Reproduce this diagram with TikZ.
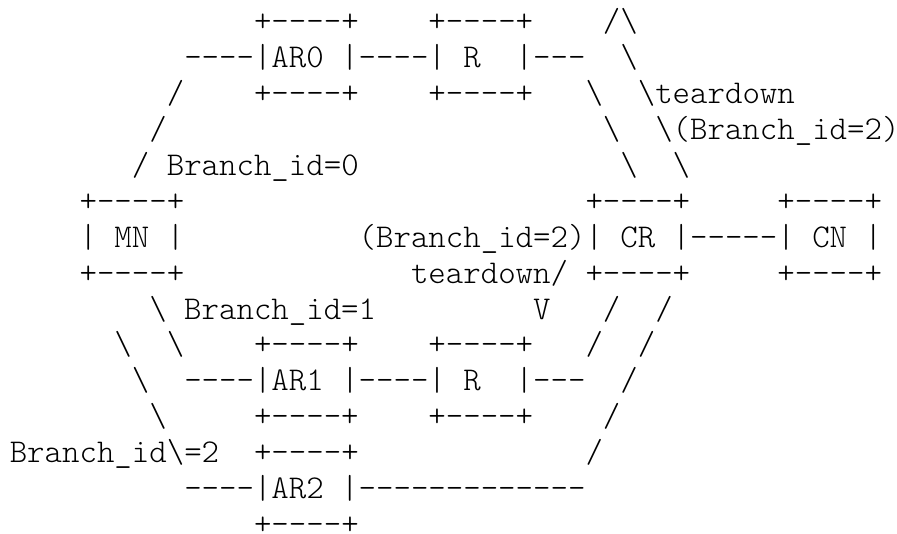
\documentclass[tikz,border=0pt]{standalone}
\usepackage{fontspec}
\setmonofont{lmmonolt10-regular}[Extension=.otf]
\begin{document}
\begin{tikzpicture}[x=1pt,y=1pt,
  asciirow/.style={anchor=base west, inner sep=0pt, outer sep=0pt,
    font=\ttfamily\fontsize{33.23pt}{35.88pt}\selectfont}]
  \useasboundingbox (0,0) rectangle (897,534);
  \def\bs{\textbackslash}
  % one text row per line of the drawing, all starting at column 0
  \node[asciirow] (row1)  at (9.8,502.00) {~~~~~~~~~~~~~~+----+~~~~+----+~~~~/\bs};
  \node[asciirow] (row2)  at (9.8,466.12) {~~~~~~~~~~----|AR0 |----|~R~~|---~~\bs};
  \node[asciirow] (row3)  at (9.8,430.24) {~~~~~~~~~/~~~~+----+~~~~+----+~~~\bs~~\bs teardown};
  \node[asciirow] (row4)  at (9.8,394.36) {~~~~~~~~/~~~~~~~~~~~~~~~~~~~~~~~~~\bs~~\bs(Branch\_id=2)};
  \node[asciirow] (row5)  at (9.8,358.48) {~~~~~~~/~Branch\_id=0~~~~~~~~~~~~~~~\bs~~\bs};
  \node[asciirow] (row6)  at (9.8,322.60) {~~~~+----+~~~~~~~~~~~~~~~~~~~~~~~+----+~~~~~+----+};
  \node[asciirow] (row7)  at (9.8,286.72) {~~~~|~MN~|~~~~~~~~~~(Branch\_id=2)|~CR~|-----|~CN~|};
  \node[asciirow] (row8)  at (9.8,250.84) {~~~~+----+~~~~~~~~~~~~~teardown/~+----+~~~~~+----+};
  \node[asciirow] (row9)  at (9.8,214.96) {~~~~~~~~\bs~Branch\_id=1~~~~~~~~~V~~~/~~/};
  \node[asciirow] (row10) at (9.8,179.08) {~~~~~~\bs~~\bs~~~~+----+~~~~+----+~~~/~~/};
  \node[asciirow] (row11) at (9.8,143.20) {~~~~~~~\bs~~----|AR1~|----|~R~~|---~~/};
  \node[asciirow] (row12) at (9.8,107.32) {~~~~~~~~\bs~~~~~+----+~~~~+----+~~~~/};
  \node[asciirow] (row13) at (9.8,71.44)  {Branch\_id\bs=2~~+----+~~~~~~~~~~~~~/};
  \node[asciirow] (row14) at (9.8,35.56)  {~~~~~~~~~~----|AR2~|-------------};
  \node[asciirow] (row15) at (9.8,-0.32)  {~~~~~~~~~~~~~~+----+};
\end{tikzpicture}
\end{document}
